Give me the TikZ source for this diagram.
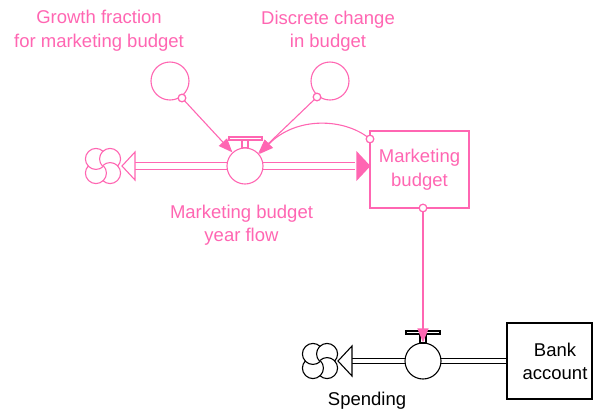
\documentclass[tikz,border=0pt]{standalone}
\usepackage{fontspec}
\setmainfont{Liberation Sans}
\usetikzlibrary{arrows.meta}
\definecolor{pk}{RGB}{255,102,178}
\begin{document}
\begin{tikzpicture}[x=1pt,y=-1pt,line width=1.1pt,
  lbl/.style={font=\fontsize{18.5}{23.5}\selectfont,align=center,inner sep=0pt},
  valve/.style={circle,draw,fill=white,minimum size=36pt,inner sep=0pt},
  aux/.style={circle,draw=pk,minimum size=38pt,inner sep=0pt},
  boxnode/.style={rectangle,draw,inner sep=0pt},
  tailc/.style={circle,draw=pk,fill=white,minimum size=7.5pt,inner sep=0pt},
  link/.style={draw=pk,-{Triangle[length=14pt,width=11pt]}},
  vcloud/.pic={\foreach \t in {45,135,225,315}{\draw ([shift={(\t:10)}]\t+180:10.5) arc[start angle=\t+180,delta angle=270,radius=10.5];}}
]
\useasboundingbox (0,0) rectangle (595,416);
% ---- upper (pink) structure
\coordinate (c1) at (103,166);
\pic[pk] at (c1) {vcloud};
\node[boxnode,draw=pk,minimum width=99pt,minimum height=77pt,lbl,text=pk] (stock) at (419.5,169.5) {Marketing\\budget};
\coordinate (sw) at (stock.west |- c1);
\draw[pk,double=white,double distance=5.8pt] ([xshift=32pt]c1) -- ([xshift=-14pt]sw);
\draw[pk,fill=white] ([xshift=19pt]c1) -- ([xshift=32pt,yshift=-14pt]c1) -- ([xshift=32pt,yshift=14pt]c1) -- cycle;
\fill[pk] ([xshift=1pt]sw) -- ([xshift=-13pt,yshift=-15pt]sw) -- ([xshift=-13pt,yshift=15pt]sw) -- cycle;
\node[valve,draw=pk] (v1) at (245,166) {};
\draw[pk,fill=white] (229,137) rectangle (262,140);
\draw[pk,fill=white] (242,140) rectangle (248,147.5);
\node[aux] (a1) at (170,81) {};
\node[aux] (a2) at (330,81) {};
\node[tailc] (t1) at (182,98) {};
\node[tailc] (t2) at (317,97) {};
\node[tailc] (t3) at (370,139) {};
\node[tailc] (t4) at (423,208) {};
\draw[link] (t1.center) -- (v1);
\draw[link] (t2.center) -- (v1);
\draw[link] (t3.center) .. controls (345,118) and (296,116) .. (v1.40);
\node[tailc] at (t1) {};
\node[tailc] at (t2) {};
\node[tailc] at (t3) {};
\node[lbl,text=pk] (l1) at (99,30.5) {Growth fraction\\for marketing budget};
\node[lbl,text=pk] (l2) at (328,31) {Discrete change\\in budget};
\node[lbl,text=pk] (l3) at (241.5,225) {Marketing budget\\year flow};
% ---- lower (black) structure
\coordinate (c2) at (320,361);
\pic[black] at (c2) {vcloud};
\node[boxnode,minimum width=85pt,minimum height=76pt] (bank) at (549.5,361) {};
\node[lbl] (banktxt) at (555,361.5) {Bank\\account};
\draw[double=white,double distance=4.4pt] (bank.west) -- ([xshift=32pt]c2);
\draw[fill=white] ([xshift=18pt]c2) -- ([xshift=32pt,yshift=-15pt]c2) -- ([xshift=32pt,yshift=15pt]c2) -- cycle;
\node[valve] (v2) at (423,361) {};
\draw[fill=white] (406,331) rectangle (440,334);
\draw[fill=white] (420,334) rectangle (426,343);
\draw[link] (t4.center) -- (v2.north);
\node[tailc] at (t4) {};
\node[lbl] (l4) at (367,401) {Spending};
\end{tikzpicture}
\end{document}
